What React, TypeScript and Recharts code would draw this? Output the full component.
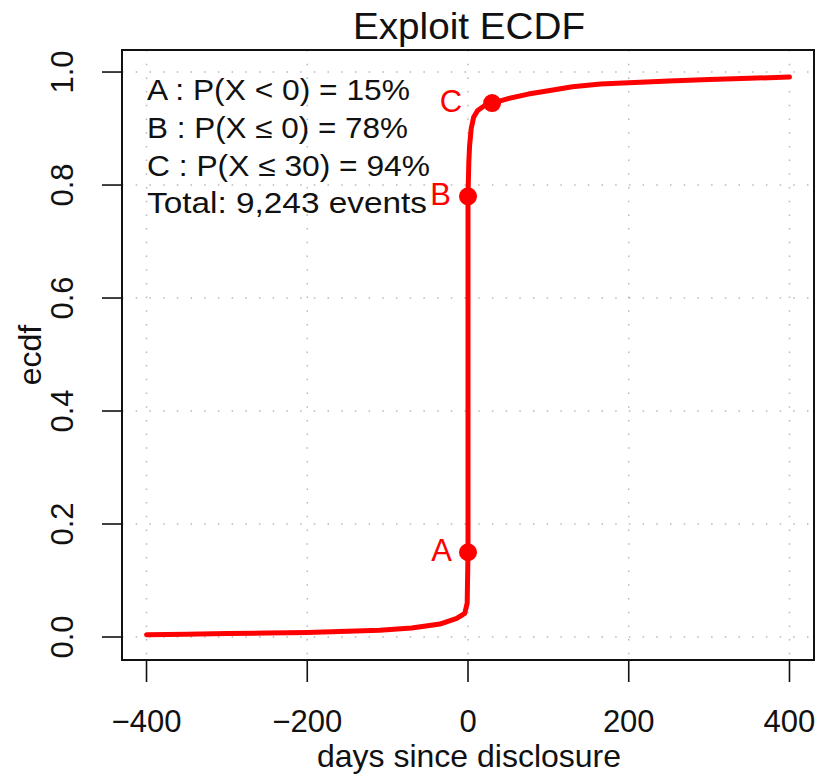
import React from "react";
import {
  CartesianGrid,
  ComposedChart,
  Line,
  ReferenceArea,
  Scatter,
  XAxis,
  YAxis,
} from "recharts";

// ecdf curve
const days = [
  -400, -350, -300, -250, -200, -150, -110, -70, -35, -14, -4, -1, 0, 0, 1, 2,
  4, 7, 12, 20, 30, 50, 75, 100, 130, 165, 200, 250, 300, 350, 400,
];
const ecdf = [
  0.004, 0.005, 0.006, 0.007, 0.008, 0.01, 0.012, 0.016, 0.023, 0.033, 0.042,
  0.06, 0.15, 0.78, 0.84, 0.87, 0.9, 0.92, 0.932, 0.94, 0.945, 0.953, 0.961,
  0.967, 0.974, 0.979, 0.981, 0.984, 0.987, 0.989, 0.991,
];

const markDays = [0, 0, 30];
const markValues = [0.15, 0.78, 0.945];
const markLabels = ["A", "B", "C"];

const xTicks = [-400, -200, 0, 200, 400];
const yTicks = [0, 0.2, 0.4, 0.6, 0.8, 1.0];

const notes = [
  "A : P(X < 0) = 15%",
  "B : P(X \u2264 0) = 78%",
  "C : P(X \u2264 30) = 94%",
  "Total: 9,243 events",
];

const X_DOMAIN: [number, number] = [-430.5, 430.5];
const Y_DOMAIN: [number, number] = [-0.0407, 1.039];

const FONT = "'Liberation Sans', Arial, Helvetica, sans-serif";
const RED = "#ff0000";

const lineData = days.map((x, i) => ({ x, y: ecdf[i] }));
const markData = markDays.map((x, i) => ({
  x,
  y: markValues[i],
  label: markLabels[i],
}));

// how far left of the dot each letter sits
const labelGap: Record<string, number> = { A: 16, B: 17, C: 30 };

function XTick({ x, y, payload }: any) {
  const v = payload.value as number;
  const txt = v < 0 ? `\u2212${Math.abs(v)}` : `${v}`;
  return (
    <text
      x={x}
      y={y + 50}
      textAnchor="middle"
      fontSize={31}
      fontFamily={FONT}
      fill="#111"
    >
      {txt}
    </text>
  );
}

function YTick({ x, y, payload }: any) {
  const cx = x - 39;
  return (
    <text
      x={cx}
      y={y}
      transform={`rotate(-90, ${cx}, ${y})`}
      textAnchor="middle"
      dominantBaseline="central"
      fontSize={31}
      fontFamily={FONT}
      fill="#111"
    >
      {(payload.value as number).toFixed(1)}
    </text>
  );
}

function MarkShape(props: any) {
  const { cx, cy, payload } = props;
  const gap = labelGap[payload.label] ?? 16;
  return (
    <g>
      <circle cx={cx} cy={cy} r={9} fill={RED} />
      <text
        x={cx - gap}
        y={cy - 2}
        textAnchor="end"
        dominantBaseline="central"
        fontSize={31}
        fontFamily={FONT}
        fill={RED}
      >
        {payload.label}
      </text>
    </g>
  );
}

export default function App() {
  const noteY = [90, 128, 166, 203];
  const noteW = [263, 261, 283, 280];
  return (
    <div
      style={{
        position: "absolute",
        left: 0,
        top: 0,
        width: 817,
        height: 775,
        background: "#fff",
        fontFamily: FONT,
      }}
    >
      <ComposedChart
        width={817}
        height={775}
        margin={{ top: 50, right: 3, left: 0, bottom: 0 }}
      >
        <CartesianGrid
          stroke="#b8b8b8"
          strokeWidth={1.5}
          strokeDasharray="1.5 12.2"
        />
        <XAxis
          type="number"
          dataKey="x"
          domain={X_DOMAIN}
          ticks={xTicks}
          allowDataOverflow
          height={115}
          axisLine={false}
          tickLine={{ stroke: "#111", strokeWidth: 1.6 }}
          tickSize={22}
          tickMargin={0}
          tick={<XTick />}
          interval={0}
        />
        <YAxis
          type="number"
          dataKey="y"
          domain={Y_DOMAIN}
          ticks={yTicks}
          allowDataOverflow
          width={122}
          axisLine={false}
          tickLine={{ stroke: "#111", strokeWidth: 1.6 }}
          tickSize={20}
          tickMargin={0}
          tick={<YTick />}
          interval={0}
        />
        <ReferenceArea
          x1={X_DOMAIN[0]}
          x2={X_DOMAIN[1]}
          y1={Y_DOMAIN[0]}
          y2={Y_DOMAIN[1]}
          fill="none"
          fillOpacity={0}
          stroke="#111"
          strokeWidth={2}
          ifOverflow="extendDomain"
        />
        <Line
          data={lineData}
          dataKey="y"
          type="linear"
          stroke={RED}
          strokeWidth={5}
          strokeLinecap="round"
          strokeLinejoin="round"
          dot={false}
          activeDot={false}
          isAnimationActive={false}
        />
        <Scatter
          data={markData}
          dataKey="y"
          fill={RED}
          shape={<MarkShape />}
          isAnimationActive={false}
        />
      </ComposedChart>
      <svg
        width={817}
        height={775}
        style={{ position: "absolute", left: 0, top: 0, pointerEvents: "none" }}
      >
        <text
          x={469}
          y={39}
          textAnchor="middle"
          fontSize={36}
          fontFamily={FONT}
          fill="#111"
          textLength={232}
          lengthAdjust="spacingAndGlyphs"
        >
          Exploit ECDF
        </text>
        {notes.map((t, i) => (
          <text
            key={t}
            x={147}
            y={noteY[i]}
            dominantBaseline="central"
            fontSize={29}
            fontFamily={FONT}
            fill="#111"
            textLength={noteW[i]}
            lengthAdjust="spacingAndGlyphs"
          >
            {t}
          </text>
        ))}
        <text
          x={469}
          y={767}
          textAnchor="middle"
          fontSize={32}
          fontFamily={FONT}
          fill="#111"
        >
          days since disclosure
        </text>
        <text
          x={30}
          y={355}
          transform="rotate(-90, 30, 355)"
          textAnchor="middle"
          dominantBaseline="central"
          fontSize={32}
          fontFamily={FONT}
          fill="#111"
        >
          ecdf
        </text>
      </svg>
    </div>
  );
}
